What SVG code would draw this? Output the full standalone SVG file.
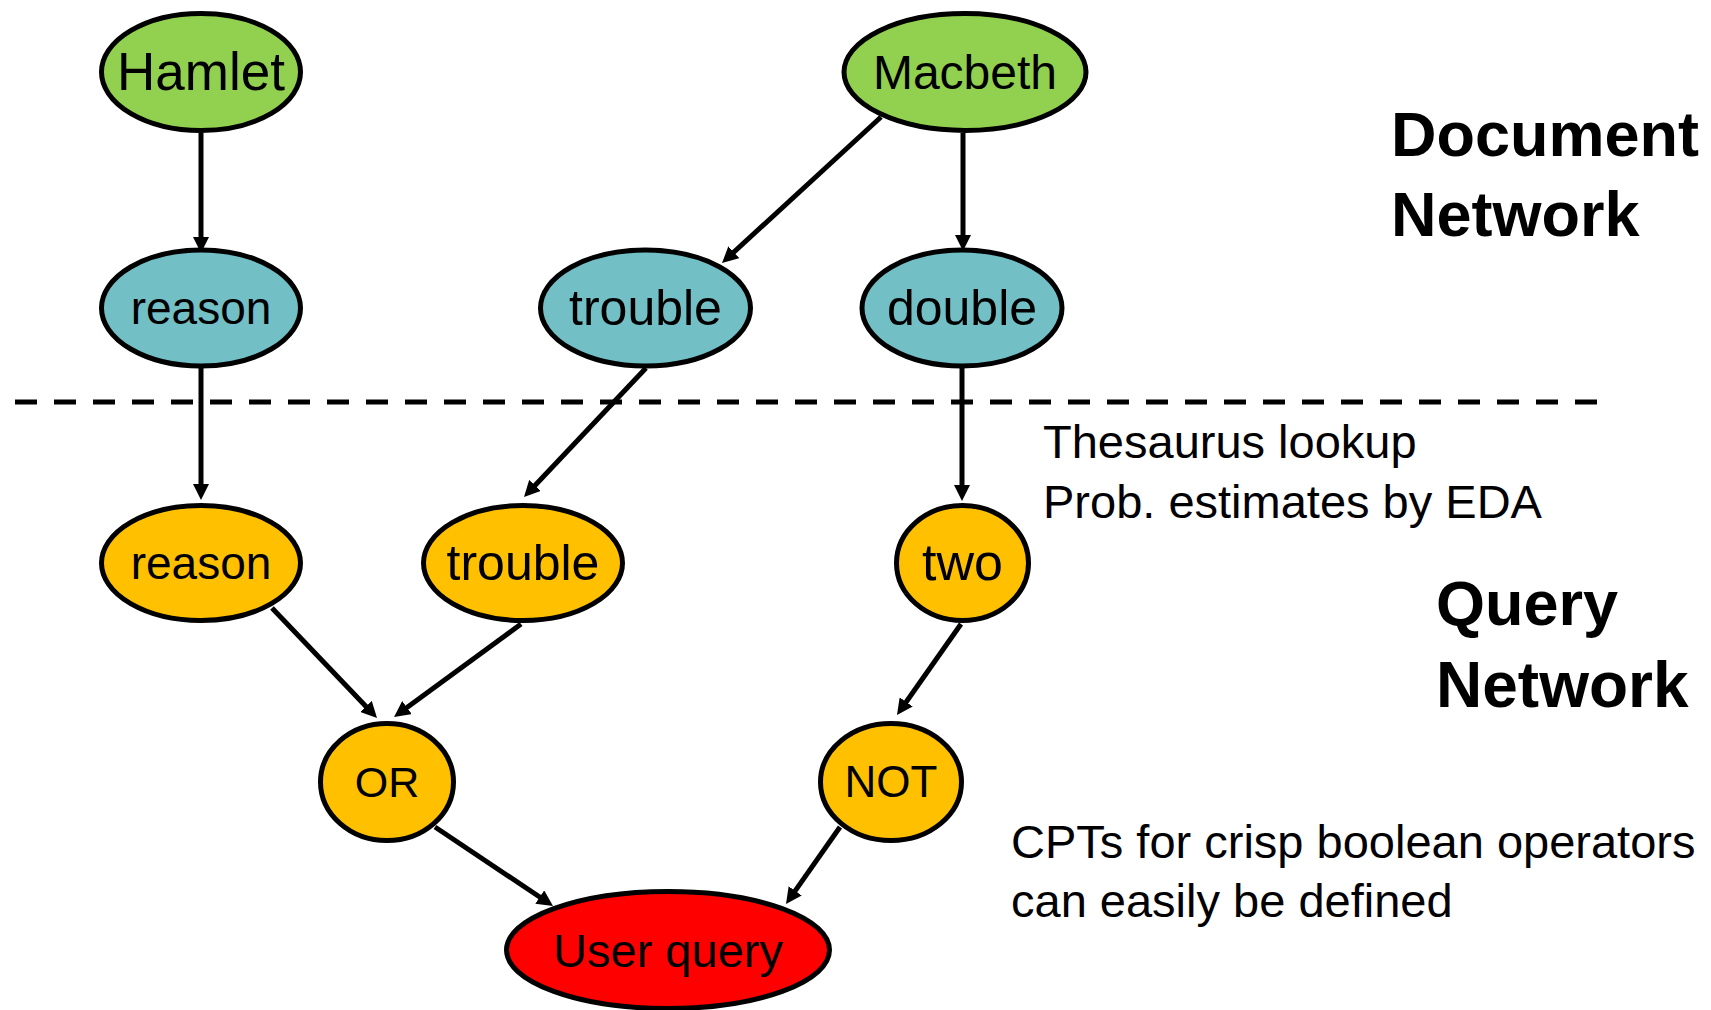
<svg xmlns="http://www.w3.org/2000/svg" width="1711" height="1010" viewBox="0 0 1711 1010">
  <style>
    .node ellipse { stroke: #000; stroke-width: 5; }
    .doc ellipse { fill: #92D050; }
    .term ellipse { fill: #72BFC5; }
    .query ellipse { fill: #FFC000; }
    .user ellipse { fill: #FF0000; }
    .node text { font-family: "Liberation Sans", Arial, sans-serif; font-size: 48px; fill: #000; text-anchor: middle; }
    .edge { stroke: #000; stroke-width: 5; fill: none; marker-end: url(#arrow); }
    .heading { font-family: "Liberation Sans", Arial, sans-serif; font-weight: bold; font-size: 63px; fill: #000; }
    .note { font-family: "Liberation Sans", Arial, sans-serif; font-size: 47px; fill: #000; }
  </style>
  <defs>
    <marker id="arrow" markerUnits="userSpaceOnUse" markerWidth="16" markerHeight="16" refX="8" refY="8" orient="auto">
      <path d="M0,0 L16,8 L0,16 z" fill="#000"/>
    </marker>
  </defs>
  <rect width="1711" height="1010" fill="#fff"/>

  <!-- boundary between document network and query network -->
  <line x1="15" y1="402" x2="1604" y2="402" stroke="#000" stroke-width="5" stroke-dasharray="22 17"/>

  <g id="connectors">
    <line class="edge" x1="201" y1="133" x2="201" y2="245"/>
    <line class="edge" x1="881" y1="117" x2="727.9" y2="257.6"/>
    <line class="edge" x1="963" y1="133" x2="963" y2="243"/>
    <line class="edge" x1="201" y1="368" x2="201" y2="492"/>
    <line class="edge" x1="646" y1="368" x2="529.5" y2="491.2"/>
    <line class="edge" x1="962" y1="368" x2="962" y2="493"/>
    <line class="edge" x1="272" y1="608" x2="371.5" y2="712.2"/>
    <line class="edge" x1="521" y1="624" x2="400.5" y2="712.3"/>
    <line class="edge" x1="961" y1="624" x2="901.6" y2="708.5"/>
    <line class="edge" x1="435" y1="827" x2="546.4" y2="901.5"/>
    <line class="edge" x1="840" y1="827" x2="790.6" y2="897.4"/>
  </g>

  <!-- document nodes -->
  <g id="hamlet" class="node doc">
    <ellipse cx="201" cy="72" rx="99.5" ry="58.5"/>
    <text x="201" y="90" style="font-size:53px">Hamlet</text>
  </g>
  <g id="macbeth" class="node doc">
    <ellipse cx="965" cy="72" rx="121" ry="58.5"/>
    <text x="965" y="89">Macbeth</text>
  </g>

  <!-- representation nodes -->
  <g id="reason-term" class="node term">
    <ellipse cx="201" cy="308" rx="99.5" ry="58"/>
    <text x="201" y="324" style="font-size:46px">reason</text>
  </g>
  <g id="trouble-term" class="node term">
    <ellipse cx="645.5" cy="308" rx="105" ry="58"/>
    <text x="645.5" y="325" style="font-size:50px">trouble</text>
  </g>
  <g id="double-term" class="node term">
    <ellipse cx="962" cy="308" rx="100" ry="58"/>
    <text x="962" y="325" style="font-size:50px">double</text>
  </g>

  <!-- query concept nodes -->
  <g id="reason-query" class="node query">
    <ellipse cx="201" cy="563" rx="99.5" ry="57.5"/>
    <text x="201" y="579" style="font-size:46px">reason</text>
  </g>
  <g id="trouble-query" class="node query">
    <ellipse cx="523" cy="563" rx="99.5" ry="57.5"/>
    <text x="523" y="580" style="font-size:50px">trouble</text>
  </g>
  <g id="two-query" class="node query">
    <ellipse cx="962.5" cy="563" rx="66" ry="57.5"/>
    <text x="962.5" y="580" style="font-size:52px">two</text>
  </g>

  <!-- operator nodes -->
  <g id="or-op" class="node query">
    <ellipse cx="387" cy="782" rx="66.5" ry="58.5"/>
    <text x="387" y="797" style="font-size:43px">OR</text>
  </g>
  <g id="not-op" class="node query">
    <ellipse cx="891" cy="782" rx="70.5" ry="58.5"/>
    <text x="891" y="797" style="font-size:44px">NOT</text>
  </g>

  <g id="user-query" class="node user">
    <ellipse cx="668" cy="950" rx="161.5" ry="58.5"/>
    <text x="668" y="967" style="font-size:47px">User query</text>
  </g>

  <!-- side labels -->
  <text class="heading" x="1391" y="156">Document</text>
  <text class="heading" x="1391" y="236">Network</text>
  <text class="heading" x="1436" y="625">Query</text>
  <text class="heading" x="1436" y="707" style="font-size:64px">Network</text>
  <text class="note" x="1043" y="458">Thesaurus lookup</text>
  <text class="note" x="1043" y="518">Prob. estimates by EDA</text>
  <text class="note" x="1011" y="858">CPTs for crisp boolean operators</text>
  <text class="note" x="1011" y="917">can easily be defined</text>
</svg>
